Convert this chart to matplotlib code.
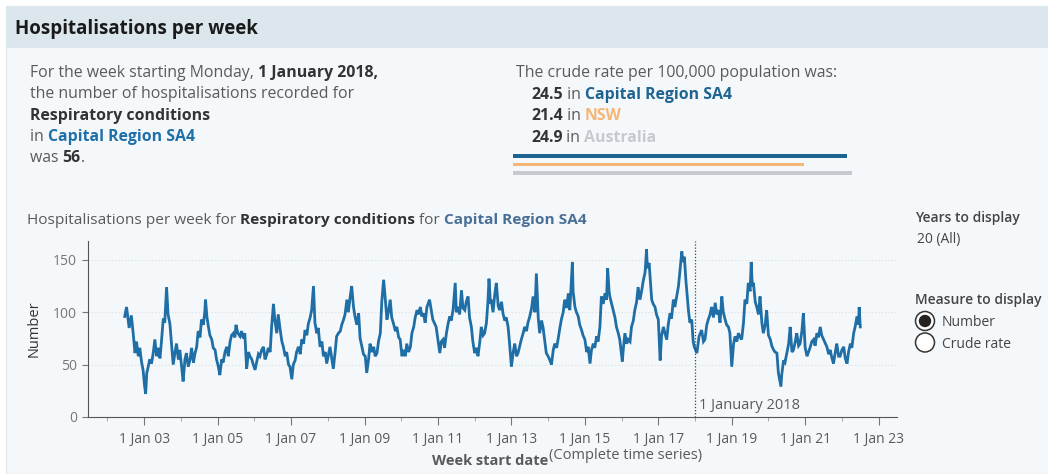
import matplotlib
matplotlib.use("Agg")
import matplotlib.pyplot as plt
from matplotlib.patches import Rectangle, Circle

plt.rcParams["font.family"] = ["Open Sans", "DejaVu Sans"]

W, H = 1048, 474

# weekly hospitalisations (decimal year, count)
week_year = [
    2002.47, 2002.52, 2002.59, 2002.65, 2002.70, 2002.75, 2002.79, 2002.84, 2002.88, 2002.93,
    2002.97, 2003.01, 2003.04, 2003.07, 2003.11, 2003.15, 2003.20, 2003.25, 2003.29, 2003.34,
    2003.38, 2003.43, 2003.47, 2003.52, 2003.56, 2003.61, 2003.65, 2003.70, 2003.75, 2003.79,
    2003.84, 2003.88, 2003.93, 2003.97, 2004.02, 2004.06, 2004.11, 2004.15, 2004.20, 2004.25,
    2004.29, 2004.34, 2004.38, 2004.43, 2004.47, 2004.52, 2004.56, 2004.61, 2004.65, 2004.67,
    2004.71, 2004.75, 2004.79, 2004.84, 2004.88, 2004.93, 2004.97, 2005.02, 2005.06, 2005.11,
    2005.15, 2005.20, 2005.25, 2005.29, 2005.34, 2005.38, 2005.43, 2005.47, 2005.50, 2005.55,
    2005.61, 2005.65, 2005.70, 2005.74, 2005.79, 2005.84, 2005.88, 2005.93, 2005.97, 2006.02,
    2006.06, 2006.11, 2006.15, 2006.20, 2006.25, 2006.29, 2006.34, 2006.38, 2006.43, 2006.47,
    2006.52, 2006.56, 2006.61, 2006.65, 2006.70, 2006.75, 2006.79, 2006.84, 2006.88, 2006.93,
    2006.97, 2007.02, 2007.06, 2007.11, 2007.15, 2007.20, 2007.25, 2007.29, 2007.34, 2007.38,
    2007.43, 2007.47, 2007.52, 2007.56, 2007.61, 2007.65, 2007.70, 2007.74, 2007.79, 2007.84,
    2007.88, 2007.93, 2007.97, 2008.02, 2008.06, 2008.11, 2008.15, 2008.20, 2008.24, 2008.29,
    2008.34, 2008.38, 2008.43, 2008.47, 2008.52, 2008.56, 2008.61, 2008.65, 2008.70, 2008.74,
    2008.79, 2008.84, 2008.88, 2008.93, 2008.97, 2009.02, 2009.06, 2009.11, 2009.15, 2009.20,
    2009.25, 2009.29, 2009.34, 2009.38, 2009.43, 2009.47, 2009.52, 2009.56, 2009.61, 2009.65,
    2009.70, 2009.74, 2009.79, 2009.84, 2009.88, 2009.93, 2009.97, 2010.02, 2010.06, 2010.11,
    2010.15, 2010.20, 2010.25, 2010.29, 2010.34, 2010.38, 2010.43, 2010.47, 2010.52, 2010.56,
    2010.61, 2010.65, 2010.70, 2010.77, 2010.86, 2010.95, 2011.05, 2011.09, 2011.14, 2011.18,
    2011.23, 2011.27, 2011.32, 2011.36, 2011.41, 2011.47, 2011.50, 2011.55, 2011.59, 2011.64,
    2011.68, 2011.73, 2011.77, 2011.82, 2011.86, 2011.91, 2011.95, 2012.00, 2012.05, 2012.09,
    2012.14, 2012.18, 2012.23, 2012.27, 2012.32, 2012.36, 2012.39, 2012.43, 2012.45, 2012.50,
    2012.55, 2012.59, 2012.64, 2012.68, 2012.73, 2012.77, 2012.82, 2012.86, 2012.91, 2012.95,
    2013.00, 2013.05, 2013.09, 2013.14, 2013.18, 2013.23, 2013.27, 2013.32, 2013.36, 2013.41,
    2013.45, 2013.50, 2013.55, 2013.59, 2013.64, 2013.68, 2013.73, 2013.77, 2013.82, 2013.86,
    2013.91, 2013.95, 2014.00, 2014.05, 2014.09, 2014.14, 2014.18, 2014.23, 2014.27, 2014.32,
    2014.36, 2014.41, 2014.45, 2014.50, 2014.55, 2014.59, 2014.66, 2014.68, 2014.73, 2014.77,
    2014.82, 2014.86, 2014.91, 2014.95, 2015.00, 2015.05, 2015.09, 2015.14, 2015.18, 2015.23,
    2015.27, 2015.32, 2015.36, 2015.41, 2015.45, 2015.50, 2015.55, 2015.59, 2015.62, 2015.66,
    2015.68, 2015.73, 2015.77, 2015.82, 2015.86, 2015.91, 2015.95, 2016.02, 2016.05, 2016.09,
    2016.14, 2016.18, 2016.23, 2016.27, 2016.32, 2016.36, 2016.41, 2016.45, 2016.50, 2016.55,
    2016.59, 2016.64, 2016.68, 2016.70, 2016.75, 2016.82, 2016.86, 2016.91, 2016.95, 2017.00,
    2017.05, 2017.09, 2017.14, 2017.18, 2017.23, 2017.27, 2017.32, 2017.36, 2017.41, 2017.45,
    2017.50, 2017.55, 2017.59, 2017.64, 2017.67, 2017.71, 2017.75, 2017.82, 2017.86, 2017.91,
    2017.95, 2017.98, 2018.05, 2018.11, 2018.18, 2018.23, 2018.27, 2018.32, 2018.36, 2018.41,
    2018.45, 2018.50, 2018.55, 2018.59, 2018.64, 2018.68, 2018.73, 2018.77, 2018.82, 2018.86,
    2018.91, 2018.95, 2019.00, 2019.05, 2019.09, 2019.14, 2019.18, 2019.23, 2019.27, 2019.32,
    2019.36, 2019.41, 2019.45, 2019.50, 2019.53, 2019.56, 2019.59, 2019.64, 2019.68, 2019.73,
    2019.77, 2019.82, 2019.86, 2019.91, 2019.95, 2020.00, 2020.05, 2020.09, 2020.14, 2020.18,
    2020.23, 2020.27, 2020.34, 2020.36, 2020.41, 2020.45, 2020.50, 2020.55, 2020.59, 2020.64,
    2020.68, 2020.73, 2020.77, 2020.82, 2020.86, 2020.91, 2020.95, 2021.00, 2021.05, 2021.09,
    2021.14, 2021.18, 2021.23, 2021.27, 2021.32, 2021.36, 2021.41, 2021.45, 2021.50, 2021.55,
    2021.59, 2021.64, 2021.68, 2021.73, 2021.77, 2021.82, 2021.86, 2021.91, 2021.95, 2022.00,
    2022.05, 2022.09, 2022.14, 2022.18, 2022.23, 2022.27, 2022.32, 2022.36, 2022.41, 2022.45,
    2022.47, 2022.50,
]
hosp_count = [
    96, 105, 85, 97, 80, 61, 72, 58, 66, 52,
    45, 30, 22, 42, 48, 55, 51, 62, 74, 58,
    66, 56, 72, 94, 90, 124, 98, 89, 67, 50,
    62, 70, 55, 64, 48, 34, 55, 61, 48, 55,
    66, 52, 60, 67, 82, 76, 93, 88, 100, 112,
    95, 86, 78, 74, 66, 64, 55, 48, 40, 55,
    52, 62, 67, 58, 72, 78, 80, 76, 88, 80,
    77, 82, 75, 80, 46, 62, 58, 55, 50, 45,
    52, 60, 58, 64, 67, 55, 60, 66, 62, 86,
    108, 92, 80, 98, 84, 72, 67, 58, 62, 50,
    48, 36, 50, 54, 62, 67, 60, 74, 70, 83,
    78, 89, 95, 102, 125, 90, 80, 85, 67, 72,
    58, 62, 51, 60, 67, 55, 46, 62, 77, 80,
    82, 88, 93, 98, 112, 100, 115, 125, 105, 96,
    88, 99, 75, 67, 60, 58, 42, 55, 70, 62,
    67, 58, 61, 72, 80, 110, 131, 115, 93, 100,
    112, 95, 89, 82, 86, 76, 74, 58, 64, 58,
    70, 62, 67, 80, 86, 95, 102, 98, 105, 96,
    99, 90, 105, 112, 93, 86, 61, 72, 74, 66,
    80, 88, 96, 92, 102, 128, 100, 105, 98, 121,
    104, 102, 110, 115, 95, 86, 72, 61, 66, 58,
    72, 86, 78, 80, 90, 110, 132, 108, 112, 100,
    118, 128, 106, 102, 110, 99, 92, 95, 86, 70,
    48, 62, 70, 58, 61, 68, 74, 80, 86, 82,
    90, 96, 104, 115, 100, 137, 95, 80, 92, 86,
    72, 61, 58, 54, 50, 64, 70, 66, 74, 85,
    93, 100, 112, 104, 118, 102, 148, 120, 105, 100,
    96, 88, 83, 78, 74, 62, 67, 51, 64, 70,
    66, 77, 72, 86, 115, 108, 118, 112, 142, 120,
    115, 108, 102, 95, 86, 80, 74, 53, 66, 80,
    70, 74, 72, 86, 92, 102, 110, 124, 112, 121,
    130, 138, 160, 142, 147, 112, 108, 105, 98, 93,
    54, 78, 86, 80, 74, 88, 99, 94, 112, 105,
    115, 125, 140, 158, 148, 153, 131, 102, 90, 93,
    72, 67, 61, 77, 83, 72, 74, 88, 93, 98,
    105, 95, 109, 98, 102, 90, 115, 100, 93, 88,
    86, 80, 48, 70, 77, 72, 80, 76, 74, 90,
    112, 108, 128, 120, 148, 125, 128, 110, 105, 98,
    115, 90, 80, 88, 102, 78, 74, 68, 64, 62,
    61, 42, 29, 40, 54, 52, 61, 70, 86, 62,
    64, 72, 80, 68, 70, 82, 99, 66, 58, 62,
    67, 72, 74, 68, 80, 76, 86, 78, 74, 70,
    67, 60, 64, 56, 51, 62, 70, 58, 58, 64,
    67, 56, 51, 62, 70, 66, 80, 86, 96, 88,
    105, 86,
]

tick_years = [2003, 2005, 2007, 2009, 2011, 2013, 2015, 2017, 2019, 2021, 2023]
tick_labels = ["1 Jan 03", "1 Jan 05", "1 Jan 07", "1 Jan 09", "1 Jan 11", "1 Jan 13",
               "1 Jan 15", "1 Jan 17", "1 Jan 19", "1 Jan 21", "1 Jan 23"]
minor_years = [2002, 2004, 2006, 2008, 2010, 2012, 2014, 2016, 2018, 2020, 2022]
y_ticks = [0, 50, 100, 150]

selected_year = 2018.0
region = "Capital Region SA4"
condition = "Respiratory conditions"
week_count = 56
rate_places = ["Capital Region SA4", "NSW", "Australia"]
rate_values = [24.5, 21.4, 24.9]
rate_colors = ["#1f6391", "#f5b677", "#c6cacf"]

LINE = "#1f6ea5"
GREY = "#5a5a5a"
DARK = "#333333"

fig = plt.figure(figsize=(W / 100, H / 100), dpi=100, facecolor="white")


def fx(x):
    return x / W


def fy(y):
    return 1 - y / H


# panel background and header band
fig.add_artist(Rectangle((fx(6), 0), 1, fy(6), transform=fig.transFigure,
                         facecolor="#f4f8fa", edgecolor="#e2e8ec", lw=1, zorder=-5))
fig.add_artist(Rectangle((fx(6), fy(48)), 1, (48 - 6) / H, transform=fig.transFigure,
                         facecolor="#dbe6ed", edgecolor="none", zorder=-4))
fig.text(fx(15), fy(29), "Hospitalisations per week", fontsize=13.5, fontweight="bold",
         color="#1a1a1a", va="center")

renderer = fig.canvas.get_renderer()


def rich_line(x, y, parts, size=11.4):
    # draw pieces of text one after another on the same baseline
    for s, style in parts:
        kw = dict(color=GREY)
        kw.update(style)
        t = fig.text(fx(x), fy(y), s, fontsize=size, va="baseline", **kw)
        x += t.get_window_extent(renderer=renderer).width * W / fig.bbox.width


B = {"fontweight": "bold", "color": DARK}
BLUE = {"fontweight": "bold", "color": "#1f6fa8"}

rich_line(30, 77, [("For the week starting Monday, ", {}), ("1 January 2018,", B)])
rich_line(30, 98, [("the number of hospitalisations recorded for", {})])
rich_line(30, 120, [(condition, B)])
rich_line(30, 141, [("in ", {}), (region, BLUE)])
rich_line(30, 162, [("was ", {}), (str(week_count), B), (".", {})])

rich_line(516, 77, [("The crude rate per 100,000 population was:", {})])
for i, (place, val, col) in enumerate(zip(rate_places, rate_values, rate_colors)):
    rich_line(531, 99 + i * 21.5, [(f"{val}", B), (" in ", {}),
                                    (place, {"fontweight": "bold", "color": col})])

# rate bars, length proportional to the rate
bar_ax = fig.add_axes([fx(513), fy(176), fx(852) - fx(513), (176 - 153) / H])
bar_ax.barh([2, 1, 0], rate_values, height=0.45, color=rate_colors)
bar_ax.set_xlim(0, max(rate_values))
bar_ax.set_ylim(-0.4, 2.4)
bar_ax.axis("off")

rich_line(27, 224, [("Hospitalisations per week for ", {}), (condition, B),
                    (" for ", {}), (region, {"fontweight": "bold", "color": "#4a6f96"})],
          size=11.1)

# main chart
ax = fig.add_axes([fx(88), fy(417), fx(897) - fx(88), (417 - 241) / H])
ax.set_facecolor("none")
ax.plot(week_year, hosp_count, color=LINE, lw=2.0, solid_joinstyle="miter")
ax.set_xlim(2001.47, 2023.5)
ax.set_ylim(0, 168)
ax.set_xticks(tick_years)
ax.set_xticklabels(tick_labels)
ax.set_xticks(minor_years, minor=True)
ax.set_yticks(y_ticks)
ax.tick_params(axis="x", which="major", length=6, color="#777", labelsize=10,
               labelcolor=GREY, pad=5)
ax.tick_params(axis="x", which="minor", length=3, color="#999")
ax.tick_params(axis="y", length=4, color="#777", labelsize=10, labelcolor="#777", pad=4)
for yv in y_ticks[1:]:
    ax.axhline(yv, color="#d8dde2", lw=0.8, ls=(0, (1, 2)), zorder=0)
for side in ["top", "right"]:
    ax.spines[side].set_visible(False)
ax.spines["left"].set_color("#555")
ax.spines["bottom"].set_color("#555")
ax.axvline(selected_year, color="#444", lw=0.9, ls=(0, (1, 1.5)))
ax.annotate("1 January 2018", (selected_year, 0), xytext=(3, 3), textcoords="offset points",
            fontsize=10.5, color=GREY, va="bottom")
ax.set_ylabel("Number", fontsize=10.5, color=DARK, labelpad=8)

fig.text(fx(548), fy(465), "Week start date", fontsize=10.5, fontweight="bold",
         color=GREY, ha="right", va="baseline")
fig.text(fx(549), fy(459), "(Complete time series)", fontsize=10.5, color=GREY,
         va="baseline")

# parameter controls on the right
fig.text(fx(915), fy(222), "Years to display", fontsize=10, fontweight="semibold",
         color="#444", va="baseline")
fig.text(fx(917), fy(243), "20 (All)", fontsize=10, color="#444", va="baseline")
fig.text(fx(915), fy(304), "Measure to display", fontsize=10, fontweight="semibold",
         color="#444", va="baseline")
for i, label in enumerate(["Number", "Crude rate"]):
    cy = 321 + i * 21.5
    fig.add_artist(Circle((925 / 100, (H - cy) / 100), 0.095, transform=fig.dpi_scale_trans,
                          facecolor="white", edgecolor="#333", lw=1.1))
    if i == 0:
        fig.add_artist(Circle((925 / 100, (H - cy) / 100), 0.062,
                              transform=fig.dpi_scale_trans, facecolor="#222",
                              edgecolor="none"))
    fig.text(fx(942), fy(cy + 5), label, fontsize=10, color="#444", va="baseline")

fig.savefig("out.png", dpi=100, facecolor=fig.get_facecolor())
